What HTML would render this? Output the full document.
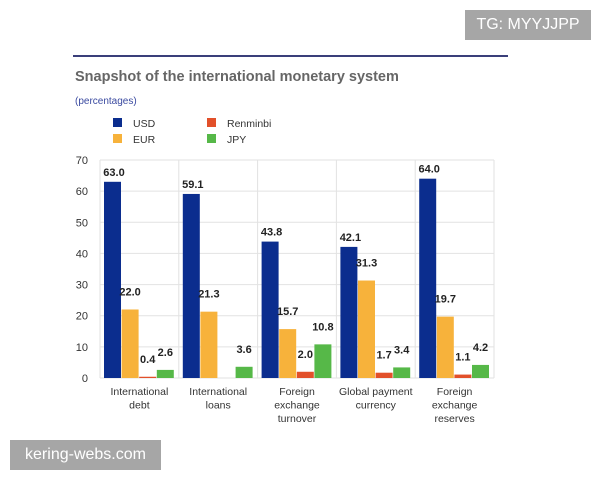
<!DOCTYPE html>
<html><head><meta charset="utf-8"><style>
body{margin:0;width:600px;height:480px;background:#fff;font-family:"Liberation Sans",sans-serif;position:relative;overflow:hidden}
.box{position:absolute;background:#a6a6a6;color:#fff;font-size:16px;display:flex;align-items:center;justify-content:center}
</style></head><body>
<div class="box" style="left:465px;top:10px;width:126px;height:30px">TG: MYYJJPP</div>
<div class="box" style="left:10px;top:440px;width:151px;height:30px">kering-webs.com</div>
<svg id="chart" width="600" height="480" style="position:absolute;left:0;top:0;pointer-events:none">
<line x1="73" y1="56" x2="508" y2="56" stroke="#3a3f7a" stroke-width="2"/>
<text x="75" y="81" font-size="14.5" font-weight="bold" fill="#666">Snapshot of the international monetary system</text>
<text x="75" y="104" font-size="10" fill="#3a4aa0">(percentages)</text>
</svg>
<script>
const categories=[["International","debt"],["International","loans"],["Foreign","exchange","turnover"],["Global payment","currency"],["Foreign","exchange","reserves"]];
const seriesNames=["USD","EUR","Renminbi","JPY"];
const usd=[63.0,59.1,43.8,42.1,64.0];
const eur=[22.0,21.3,15.7,31.3,19.7];
const rmb=[0.4,null,2.0,1.7,1.1];
const jpy=[2.6,3.6,10.8,3.4,4.2];
const yTicks=[0,10,20,30,40,50,60,70];
const colors=["#0b2d8e","#f7b23b","#e2502a","#56b848"];
const NS="http://www.w3.org/2000/svg";
const svg=document.getElementById('chart');
const L=100,R=494,T=160,B=378,yMax=70;
const y=v=>B-v/yMax*(B-T);
const gw=(R-L)/categories.length;
const x=(g,s)=>L+g*gw+4+s*17.6;
function mk(t,a,txt){const e=document.createElementNS(NS,t);for(const k in a)e.setAttribute(k,a[k]);if(txt!=null)e.textContent=txt;svg.appendChild(e);return e;}
yTicks.forEach(t=>{
 const g=mk('line',{x1:L,x2:R,y1:y(t),y2:y(t),stroke:'#e2e2e2','stroke-width':1});
 
 
 const l=mk('text',{x:88,y:y(t)+4,'font-size':11,fill:'#333','text-anchor':'end'},t);
 
 
});
for(let i=0;i<=categories.length;i++){
 const d=mk('line',{x1:L+i*gw,x2:L+i*gw,y1:T,y2:B,stroke:'#e2e2e2','stroke-width':1});
 
 
}
[usd,eur,rmb,jpy].forEach((arr,s)=>{
 arr.forEach((v,g)=>{
  if(v==null)return;
  const b=mk('rect',{x:x(g,s),y:y(v),width:17,height:B-y(v),fill:colors[s]});
  
  
  const t=mk('text',{x:x(g,s)+(s==0?10:8.5),y:y(v)-(s==0?6:14),'font-size':11,'font-weight':'bold',fill:'#222','text-anchor':'middle'},v.toFixed(1));
  
  
 });
});
categories.forEach((c,g)=>{
 c.forEach((line,i)=>{
  const t=mk('text',{x:L+g*gw+gw/2,y:395+i*13.5,'font-size':10.5,fill:'#333','text-anchor':'middle'},line);
  
  
 });
});
seriesNames.forEach((n,s)=>{
 const lx=s<2?113:207, ly=s%2==0?118:134;
 const r=mk('rect',{x:lx,y:ly,width:9,height:9,fill:colors[s]});
 
 
 const t=mk('text',{x:lx+20,y:ly+9,'font-size':10.5,fill:'#333'},n);
 
 
});
</script>
</body></html>
